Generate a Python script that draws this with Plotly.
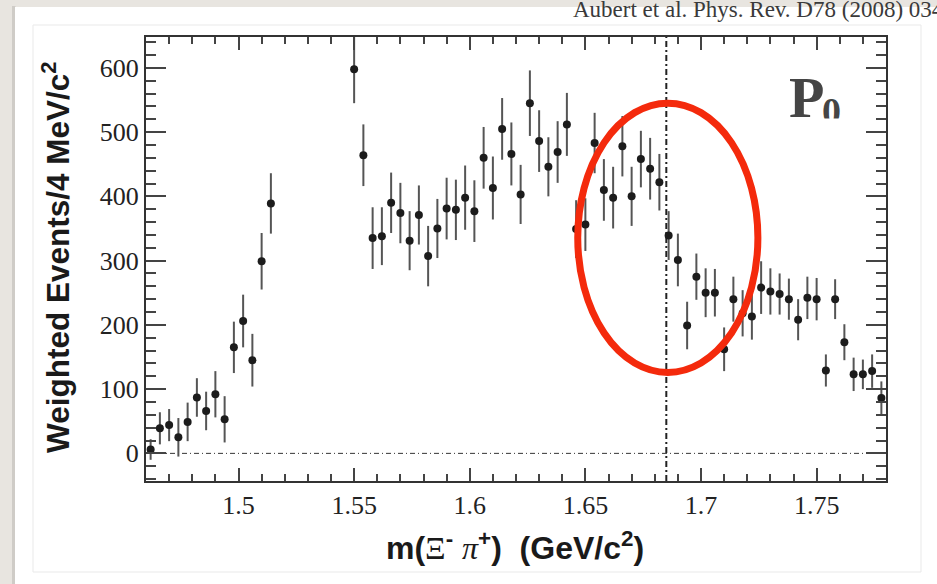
import plotly.graph_objects as go

# ---- data (bin centres in GeV/c^2, weighted events / 4 MeV/c^2, errors) ----
mass = [1.462, 1.466, 1.470, 1.474, 1.478, 1.482, 1.486, 1.490, 1.494, 1.498,
        1.502, 1.506, 1.510, 1.514,
        1.550, 1.554, 1.558, 1.562, 1.566, 1.570, 1.574, 1.578, 1.582, 1.586,
        1.590, 1.594, 1.598, 1.602, 1.606, 1.610, 1.614, 1.618, 1.622, 1.626,
        1.630, 1.634, 1.638, 1.642, 1.646, 1.650, 1.654, 1.658, 1.662, 1.666,
        1.670, 1.674, 1.678, 1.682, 1.686, 1.690, 1.694, 1.698, 1.702, 1.706,
        1.710, 1.714, 1.718, 1.722, 1.726, 1.730, 1.734, 1.738, 1.742, 1.746,
        1.750, 1.754, 1.758, 1.762, 1.766, 1.770, 1.774, 1.778]
events = [6, 39, 44, 25, 49, 87, 66, 92, 53, 165,
          206, 145, 299, 389,
          598, 464, 335, 338, 390, 374, 331, 371, 307, 350,
          381, 379, 398, 377, 460, 413, 505, 466, 403, 545,
          486, 446, 469, 512, 349, 356, 483, 410, 398, 478,
          400, 458, 443, 422, 339, 301, 199, 275, 250, 250,
          162, 240, 218, 213, 258, 252, 248, 240, 208, 242,
          240, 129, 240, 173, 123, 123, 128, 86]
errors = [16, 25, 25, 30, 30, 30, 30, 36, 36, 40,
          41, 41, 44, 47,
          53, 48, 48, 45, 47, 47, 46, 46, 47, 46,
          48, 47, 50, 48, 48, 49, 48, 49, 46, 51,
          48, 46, 48, 49, 45, 41, 47, 48, 48, 47,
          46, 44, 48, 44, 38, 41, 37, 36, 38, 37,
          34, 35, 36, 36, 41, 36, 32, 32, 32, 33,
          33, 25, 31, 28, 26, 23, 26, 26]

x_tickvals = [1.5, 1.55, 1.6, 1.65, 1.7, 1.75]
x_ticktext = ["1.5", "1.55", "1.6", "1.65", "1.7", "1.75"]
y_tickvals = [0, 100, 200, 300, 400, 500, 600]
y_ticktext = ["0", "100", "200", "300", "400", "500", "600"]
threshold_mass = 1.685
ellipse_x = [1.6467, 1.7246]
ellipse_y = [126, 545]
x_range = [1.46, 1.78]
y_range = [-43, 648]

W, H = 937, 584
L, R, T, B = 146, 51, 37, 103
PW, PH = W - L - R, H - T - B


def px(xp):
    return (xp - L) / PW


def py(yp):
    return (H - B - yp) / PH


fig = go.Figure()
fig.add_trace(go.Scatter(
    x=mass, y=events, mode="markers",
    marker=dict(color="#1c1c1c", size=8),
    error_y=dict(type="data", array=errors, visible=True,
                 color="#555555", thickness=2, width=0),
    showlegend=False, hoverinfo="x+y",
))

shapes = []
# page background card
shapes.append(dict(type="rect", xref="paper", yref="paper", layer="below",
                   x0=px(12), x1=px(15.5), y0=py(600), y1=py(6),
                   fillcolor="#cfccc7", line=dict(width=0)))
shapes.append(dict(type="rect", xref="paper", yref="paper", layer="below",
                   x0=px(15), x1=px(950), y0=py(600), y1=py(7),
                   fillcolor="white", line=dict(width=0)))
shapes.append(dict(type="rect", xref="paper", yref="paper", layer="below",
                   x0=px(33), x1=px(921), y0=py(572), y1=py(25),
                   fillcolor="rgba(0,0,0,0)", line=dict(color="#e9e9e9", width=1)))
# zero line and threshold line
shapes.append(dict(type="line", xref="x", yref="y", layer="below",
                   x0=x_range[0], x1=x_range[1], y0=0, y1=0,
                   line=dict(color="#333", width=1, dash="5px,3px,1px,3px")))
shapes.append(dict(type="line", xref="x", yref="paper", layer="below",
                   x0=threshold_mass, x1=threshold_mass, y0=0, y1=1,
                   line=dict(color="#222", width=2, dash="6px,3px,2px,3px")))
# red ellipse
shapes.append(dict(type="circle", xref="x", yref="y", layer="above",
                   x0=ellipse_x[0], x1=ellipse_x[1], y0=ellipse_y[0], y1=ellipse_y[1],
                   line=dict(color="#f42a0c", width=7)))

annotations = [
    dict(text="Aubert et al. Phys. Rev. D78 (2008) 034008", xref="paper", yref="paper",
         x=px(571), y=py(24), xanchor="left", yanchor="bottom", showarrow=False,
         font=dict(family="Liberation Serif", size=23, color="#3a3a3a")),
    dict(text="Weighted Events/4 MeV/c<sup>2</sup>", xref="paper", yref="paper",
         x=px(56), y=py(257), xanchor="center", yanchor="middle", textangle=-90,
         showarrow=False,
         font=dict(family="Liberation Sans", size=31.5, color="#1a1a1a", weight="bold")),
    dict(text="m(<span style='font-family:Liberation Serif;font-weight:normal'>\u039e</span>"
              "<sup>-</sup> <span style='font-family:Liberation Serif;font-weight:normal;font-style:italic'>\u03c0</span>"
              "<sup>+</sup>)\u00a0\u00a0(GeV/c<sup>2</sup>)",
         xref="paper", yref="paper", x=px(515), y=py(546), xanchor="center", yanchor="middle",
         showarrow=False,
         font=dict(family="Liberation Sans", size=32, color="#1a1a1a", weight="bold")),
    dict(text="P", xref="paper", yref="paper", x=px(787), y=py(97.5),
         xanchor="left", yanchor="middle", showarrow=False,
         font=dict(family="Liberation Serif", size=58, color="#454545", weight="bold")),
    dict(text="0", xref="paper", yref="paper", x=px(820), y=py(111),
         xanchor="left", yanchor="middle", showarrow=False,
         font=dict(family="Liberation Serif", size=38, color="#454545", weight="bold")),
    dict(text=" ", xref="paper", yref="paper", x=px(816), y=py(118),
         xanchor="left", yanchor="top", showarrow=False, width=34, height=26,
         bgcolor="white", borderpad=0, font=dict(size=4)),
]

axis_common = dict(showline=True, linecolor="#333", linewidth=2, mirror="allticks",
                   ticks="inside", tickcolor="#444", tickwidth=1.5,
                   showgrid=False, zeroline=False,
                   tickfont=dict(family="Liberation Serif", size=26, color="#222"))

fig.update_layout(
    width=W, height=H,
    margin=dict(l=L, r=R, t=T, b=B),
    paper_bgcolor="#e8e5e0",
    plot_bgcolor="white",
    shapes=shapes,
    annotations=annotations,
    xaxis=dict(range=x_range, tickmode="array", tickvals=x_tickvals, ticktext=x_ticktext,
               ticklen=13,
               minor=dict(dtick=0.01, tick0=1.5, ticks="inside", ticklen=7,
                          tickcolor="#444", tickwidth=1.5, showgrid=False),
               **axis_common),
    yaxis=dict(range=y_range, tickmode="array", tickvals=y_tickvals, ticktext=y_ticktext,
               ticklen=20,
               minor=dict(dtick=20, tick0=0, ticks="inside", ticklen=10,
                          tickcolor="#444", tickwidth=1.5, showgrid=False),
               **axis_common),
)

fig.write_html("out.html", config={"displayModeBar": False},
               post_script="document.body.style.margin='0';")
